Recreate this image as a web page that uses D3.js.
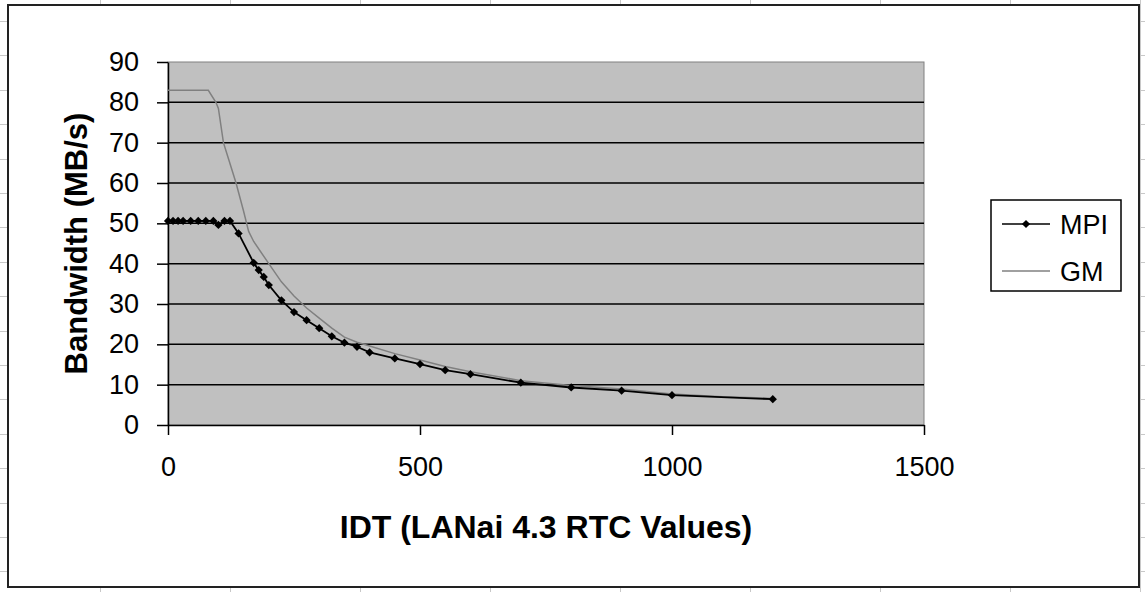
<!DOCTYPE html>
<html>
<head>
<meta charset="utf-8">
<script src="https://cdn.jsdelivr.net/npm/d3@7"></script>
<style>
  html, body { margin: 0; padding: 0; background: #ffffff; }
  svg { display: block; }
  text { font-family: "Liberation Sans", Arial, sans-serif; }
</style>
</head>
<body>
<svg id="chart" width="1145" height="592"></svg>
<script>
// Measured bandwidth versus inter-departure time (IDT)
const mpiIdt = [0, 10, 20, 30, 45, 60, 75, 90, 100, 112, 123, 140, 170, 180, 190, 200, 225, 250, 275, 300, 325, 350, 375, 400, 450, 500, 550, 600, 700, 800, 900, 1000, 1200];
const mpiBw  = [50.6, 50.6, 50.6, 50.6, 50.6, 50.6, 50.6, 50.6, 49.6, 50.6, 50.6, 47.5, 40.2, 38.4, 36.7, 34.7, 30.9, 28.0, 26.0, 24.0, 22.0, 20.4, 19.4, 18.0, 16.5, 15.1, 13.6, 12.6, 10.5, 9.3, 8.5, 7.4, 6.4];

const gmIdt = [0, 80, 95, 100, 110, 120, 135, 150, 160, 170, 200, 225, 250, 275, 300, 325, 350, 375, 400, 450, 500, 550, 600, 700, 800, 900, 1000, 1100, 1200];
const gmBw  = [83, 83, 80, 78.5, 70, 66, 60, 53, 48, 45.5, 40, 35.5, 32, 29, 26.5, 24, 21.8, 20.5, 19.6, 17.7, 16.1, 14.5, 13.2, 11.0, 9.8, 8.9, 7.7, 7.0, 6.6];

const xTicks = [0, 500, 1000, 1500];
const yTicks = [0, 10, 20, 30, 40, 50, 60, 70, 80, 90];

const seriesNames = ["MPI", "GM"];

const svg = d3.select("#chart");
const W = 1145, H = 592;

// spreadsheet cells behind the chart object
const sheet = svg.append("g");
d3.range(100, W + 1, 130).forEach(x => {
  sheet.append("line").attr("x1", x + 0.5).attr("x2", x + 0.5).attr("y1", 0).attr("y2", H)
    .attr("stroke", "#c8c8c8").attr("stroke-width", 1);
});
d3.range(21, H, 34.4).forEach(y => {
  sheet.append("line").attr("x1", 0).attr("x2", W).attr("y1", Math.round(y) + 0.5).attr("y2", Math.round(y) + 0.5)
    .attr("stroke", "#c8c8c8").attr("stroke-width", 1);
});

// chart frame
svg.append("rect").attr("x", 8).attr("y", 5).attr("width", 1131).attr("height", 582)
  .attr("fill", "#ffffff").attr("stroke", "#222222").attr("stroke-width", 2);

const plot = { left: 168, right: 924, top: 62, bottom: 425 };
const x = d3.scaleLinear().domain([0, 1500]).range([plot.left, plot.right]);
const y = d3.scaleLinear().domain([0, 90]).range([plot.bottom, plot.top]);

// plot area
svg.append("rect").attr("x", plot.left).attr("y", plot.top)
  .attr("width", plot.right - plot.left).attr("height", plot.bottom - plot.top)
  .attr("fill", "#c0c0c0").attr("stroke", "#808080").attr("stroke-width", 1);

// horizontal gridlines
svg.append("g").selectAll("line").data(yTicks.filter(d => d > 0 && d < 90)).join("line")
  .attr("x1", plot.left).attr("x2", plot.right)
  .attr("y1", d => y(d)).attr("y2", d => y(d))
  .attr("stroke", "#000000").attr("stroke-width", 1.5);

// axes
const yAxis = svg.append("g").attr("transform", `translate(${plot.left},0)`)
  .call(d3.axisLeft(y).tickValues(yTicks).tickSizeInner(11).tickSizeOuter(0).tickPadding(18));
const xAxis = svg.append("g").attr("transform", `translate(0,${plot.bottom})`)
  .call(d3.axisBottom(x).tickValues(xTicks).tickSizeInner(10).tickSizeOuter(0).tickPadding(22).tickFormat(d3.format("d")));
[yAxis, xAxis].forEach(a => {
  a.select(".domain").attr("stroke", "#000000").attr("stroke-width", 1.5);
  a.selectAll(".tick line").attr("stroke", "#000000").attr("stroke-width", 1.5);
  a.selectAll(".tick text").attr("fill", "#000000").attr("font-size", 27)
    .attr("font-family", "'Liberation Sans', Arial, sans-serif");
});

// series
const line = d3.line().x(d => x(d[0])).y(d => y(d[1]));
const gmData = gmIdt.map((d, i) => [d, gmBw[i]]);
const mpiData = mpiIdt.map((d, i) => [d, mpiBw[i]]);

svg.append("path").datum(gmData).attr("d", line)
  .attr("fill", "none").attr("stroke", "#808080").attr("stroke-width", 1.5);

svg.append("path").datum(mpiData).attr("d", line)
  .attr("fill", "none").attr("stroke", "#000000").attr("stroke-width", 1.8);

// square markers turned 45 degrees
const marker = d3.symbol().type(d3.symbolSquare).size(34);
svg.append("g").selectAll("path").data(mpiData).join("path")
  .attr("d", marker)
  .attr("transform", d => `translate(${x(d[0])},${y(d[1])}) rotate(45)`)
  .attr("fill", "#000000");

// axis titles
svg.append("text").attr("x", (plot.left + plot.right) / 2).attr("y", 538)
  .attr("text-anchor", "middle").attr("font-size", 32).attr("font-weight", "bold")
  .text("IDT (LANai 4.3 RTC Values)");
svg.append("text").attr("transform", `translate(87,${(plot.top + plot.bottom) / 2}) rotate(-90)`)
  .attr("text-anchor", "middle").attr("font-size", 31).attr("font-weight", "bold")
  .text("Bandwidth (MB/s)");

// legend
const lg = svg.append("g").attr("transform", "translate(991,200)");
lg.append("rect").attr("x", 0).attr("y", 0).attr("width", 130).attr("height", 91)
  .attr("fill", "#ffffff").attr("stroke", "#000000").attr("stroke-width", 1.5);
const rows = lg.selectAll("g.row").data(seriesNames).join("g")
  .attr("transform", (d, i) => `translate(0,${24 + i * 47})`);
rows.append("line").attr("x1", 11).attr("x2", 59).attr("y1", 0).attr("y2", 0)
  .attr("stroke", (d, i) => i === 0 ? "#000000" : "#808080").attr("stroke-width", 1.5);
rows.filter((d, i) => i === 0).append("path").attr("d", marker)
  .attr("transform", "translate(35,0) rotate(45)").attr("fill", "#000000");
rows.append("text").attr("x", 69).attr("y", 0).attr("dy", "0.36em")
  .attr("font-size", 27).text(d => d);
</script>
</body>
</html>
